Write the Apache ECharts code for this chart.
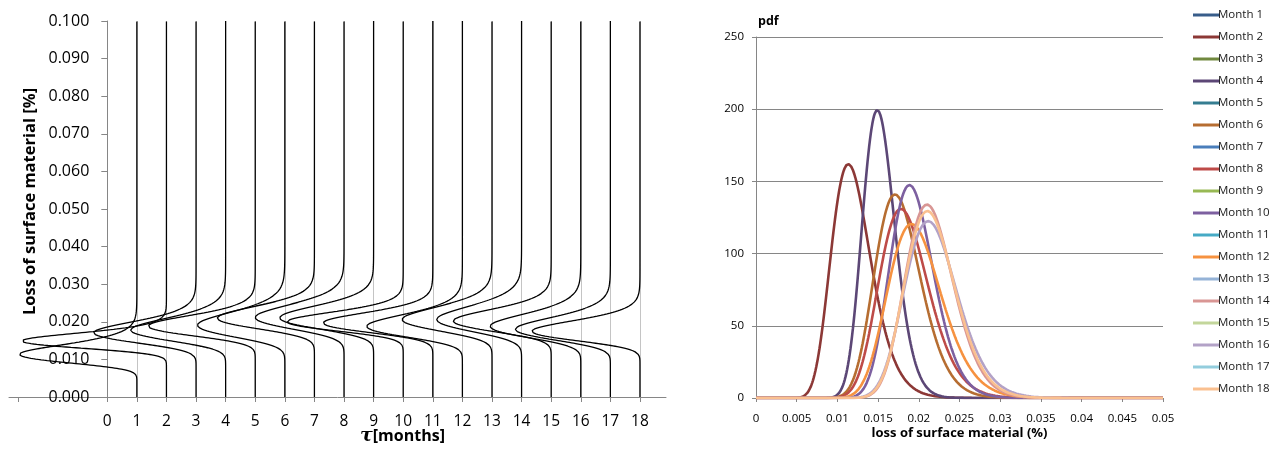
<!DOCTYPE html>
<html><head><meta charset="utf-8">
<script src="https://cdn.jsdelivr.net/npm/echarts@6/dist/echarts.min.js"></script>
<style>html,body{margin:0;padding:0;background:#fff}#c{width:1275px;height:450px}</style>
</head><body><div id="c"></div>
<script>
// ---------------- data ----------------
// left panel: tau positions (months) and axis ticks
const tauLabels = [0,1,2,3,4,5,6,7,8,9,10,11,12,13,14,15,16,17,18];
const tauTickMarks = [-3,0,1,2,3,4,5,6,7,8,9,10,11,12,13,14,15,16,17,18];
const curveTau = [1,2,3,4,5,6,7,8,9,10,11,12,13,14,15,16,17,18];
// each curve: mode (loss of surface material, %) and peak pdf value
const curveMode = [0.01134,0.01490,0.01708,0.01780,0.01885,0.01910,0.02100,0.02115,0.02105,
                   0.02000,0.01970,0.01880,0.02060,0.02060,0.02020,0.01880,0.01800,0.01750];
const curvePeak = [162,199.5,141,131,147.5,120.5,134,122.5,129.5,
                   160,151,132,124,117,135,125,131,149];
// right panel: legend months and which curve each one shows (null = flat / hidden)
const monthNames = ['Month 1','Month 2','Month 3','Month 4','Month 5','Month 6','Month 7','Month 8','Month 9',
                    'Month 10','Month 11','Month 12','Month 13','Month 14','Month 15','Month 16','Month 17','Month 18'];
const monthCurve = [null,0,null,1,null,2,null,3,null,4,null,5,null,6,null,7,null,8];
const monthColors = ['#385D8A','#8C3836','#71893F','#5C4776','#357D91','#B66D31',
                     '#4A7EBB','#BE4B48','#98B954','#7D60A0','#46AAC5','#F69240',
                     '#95B3D7','#D99694','#C3D69B','#B3A2C7','#93CDDD','#FAC090'];
const leftXMin = -3.32, leftXMax = 18.88;
const leftYMin = 0, leftYMax = 0.1, leftYStep = 0.01;
const rightXMin = 0, rightXMax = 0.05, rightXStep = 0.005;
const rightYMin = 0, rightYMax = 250, rightYStep = 50;
const pdfScale = 0.0245; // tau units per unit of pdf in left panel

// ---------------- lognormal pdf from mode & peak ----------------
const SQ2PI = Math.sqrt(2*Math.PI);
function sigmaFrom(mode, peak){
  let s = 1/(mode*peak*SQ2PI);
  for (let i=0;i<60;i++) s = Math.exp(-s*s/2)/(mode*peak*SQ2PI);
  return s;
}
function pdf(y, mode, s){
  if (y<=0) return 0;
  const mu = Math.log(mode)+s*s;
  const z = (Math.log(y)-mu)/s;
  return Math.exp(-z*z/2)/(y*s*SQ2PI);
}
const sigmas = curveMode.map((m,i)=>sigmaFrom(m,curvePeak[i]));

const FONT = 'Open Sans';
const series = [];
// left panel curves
curveTau.forEach((tau,i)=>{
  const pts = [];
  for (let k=0;k<=1000;k++){
    const y = leftYMin + (leftYMax-leftYMin)*k/1000;
    pts.push([tau - pdfScale*pdf(y,curveMode[i],sigmas[i]), y]);
  }
  series.push({type:'line', xAxisIndex:0, yAxisIndex:0, data:pts, showSymbol:false,
    silent:true, lineStyle:{color:'#000', width:1.3}, z:3});
});
// right panel curves
monthNames.forEach((name,j)=>{
  const c = monthCurve[j];
  const pts = [];
  if (c!==null){
    for (let k=0;k<=500;k++){
      const x = rightXMin + (rightXMax-rightXMin)*k/500;
      pts.push([x, pdf(x,curveMode[c],sigmas[c])]);
    }
  }
  series.push({type:'line', name:name, xAxisIndex:2, yAxisIndex:1, data:pts, showSymbol:false,
    color:monthColors[j], lineStyle:{color:monthColors[j], width:2.6}, z:3});
});

const axisGray = '#868686';
const option = {
  animation:false,
  backgroundColor:'#fff',
  textStyle:{fontFamily:FONT},
  grid:[
    {left:9, right:609, top:21, bottom:53, outerBoundsMode:'none'},
    {left:756, right:112, top:37, bottom:52, outerBoundsMode:'none'},
    {left:107.3, right:609, top:21, bottom:53, outerBoundsMode:'none'}
  ],
  legend:{
    orient:'vertical', left:1188, top:3, icon:'rect', itemWidth:27, itemHeight:3, itemGap:8,
    data:monthNames, selectedMode:false,
    textStyle:{fontFamily:FONT, fontSize:11.5, color:'#1a1a1a', lineHeight:14, padding:[0,0,0,-7]}
  },
  xAxis:[
    {type:'value', gridIndex:0, min:leftXMin, max:leftXMax,
     axisLine:{show:true, onZero:false, lineStyle:{color:axisGray, width:1}},
     axisTick:{show:true, length:5, customValues:tauTickMarks, lineStyle:{color:axisGray}},
     axisLabel:{show:true, customValues:tauLabels, margin:17, fontSize:15.5, color:'#000', fontFamily:FONT},
     splitLine:{show:false},
     name:'{tau|τ}[months]', nameLocation:'middle', nameGap:30, nameMoveOverlap:false,
     nameTextStyle:{fontFamily:FONT, fontWeight:'bold', fontSize:16, color:'#000', padding:[0,0,0,130],
       rich:{tau:{fontFamily:'DejaVu Serif', fontStyle:'italic', fontWeight:'bold', fontSize:19, color:'#000'}}}
    },
    {type:'value', gridIndex:0, min:leftXMin, max:leftXMax,
     axisLine:{show:false}, axisLabel:{show:false},
     axisTick:{show:false, customValues:curveTau},
     splitLine:{show:true, lineStyle:{color:'#c4c4c4', width:1}}
    },
    {type:'value', gridIndex:1, min:rightXMin, max:rightXMax, interval:rightXStep,
     axisLine:{show:true, lineStyle:{color:axisGray}},
     axisTick:{show:true, length:4, lineStyle:{color:axisGray}},
     axisLabel:{margin:15, fontSize:11.5, color:'#000', fontFamily:FONT},
     splitLine:{show:false},
     name:'loss of surface material (%)', nameLocation:'middle', nameGap:29, nameMoveOverlap:false,
     nameTextStyle:{fontFamily:FONT, fontWeight:'bold', fontSize:13, color:'#000'}
    },
    {type:'value', gridIndex:2, min:0, max:leftXMax, show:false}
  ],
  yAxis:[
    {type:'value', gridIndex:0, min:leftYMin, max:leftYMax, show:false},
    {type:'value', gridIndex:1, min:rightYMin, max:rightYMax, interval:rightYStep,
     axisLine:{show:true, lineStyle:{color:axisGray}},
     axisTick:{show:true, length:4, lineStyle:{color:axisGray}},
     axisLabel:{margin:12, fontSize:11.5, color:'#000', fontFamily:FONT},
     splitLine:{show:true, lineStyle:{color:axisGray, width:1}},
     name:'pdf', nameLocation:'end', nameGap:9, nameMoveOverlap:false,
     nameTextStyle:{fontFamily:FONT, fontWeight:'bold', fontSize:12.5, color:'#000', align:'left', padding:[0,0,0,2]}
    },
    {type:'value', gridIndex:2, min:leftYMin, max:leftYMax, interval:leftYStep,
     axisLine:{show:true, onZero:false, lineStyle:{color:axisGray}},
     axisTick:{show:true, length:6, lineStyle:{color:axisGray}},
     axisLabel:{margin:18, fontSize:16, color:'#000', fontFamily:FONT, formatter:v=>v.toFixed(3)},
     splitLine:{show:false},
     name:'Loss of surface material [%]', nameLocation:'middle', nameGap:69, nameMoveOverlap:false,
     nameTextStyle:{fontFamily:FONT, fontWeight:'bold', fontSize:16.5, color:'#000', padding:[0,0,0,15]}
    }
  ],
  series:series
};
const chart = echarts.init(document.getElementById('c'), null, {renderer:'canvas'});
chart.setOption(option);
</script></body></html>
